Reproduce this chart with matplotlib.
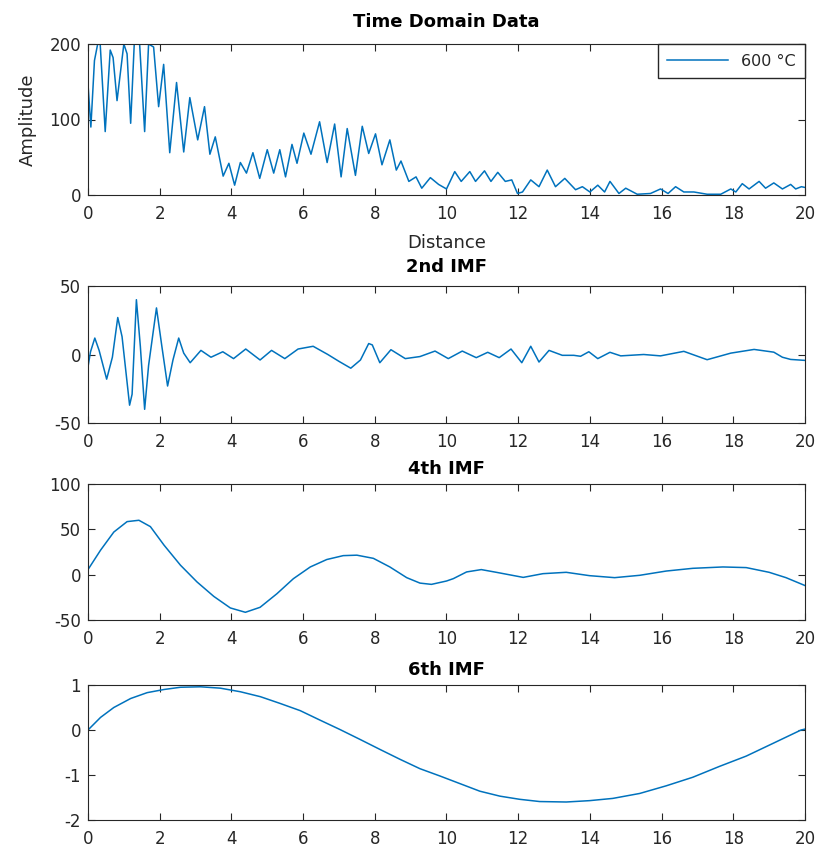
import matplotlib
matplotlib.use("Agg")
import matplotlib.pyplot as plt

plt.rcParams["font.family"] = ["DejaVu Sans"]
plt.rcParams["axes.unicode_minus"] = False

# Time domain amplitude
td_x = [0, 0.08, 0.18, 0.27, 0.34, 0.48, 0.62, 0.70, 0.81, 1.0, 1.09, 1.19, 1.29, 1.44,
        1.58, 1.69, 1.83, 1.97, 2.11, 2.28, 2.47, 2.67, 2.84, 3.06, 3.25, 3.4, 3.55,
        3.77, 3.93, 4.09, 4.25, 4.42, 4.6, 4.79, 5.0, 5.18, 5.35, 5.51, 5.69, 5.83,
        6.02, 6.22, 6.46, 6.67, 6.88, 7.06, 7.23, 7.46, 7.65, 7.83, 8.02, 8.2, 8.42,
        8.6, 8.73, 8.95, 9.15, 9.31, 9.55, 9.78, 10.0, 10.23, 10.41, 10.65, 10.81,
        11.06, 11.24, 11.43, 11.64, 11.82, 11.98, 12.12, 12.35, 12.58, 12.81, 13.04,
        13.3, 13.6, 13.79, 14.0, 14.22, 14.41, 14.56, 14.81, 15.0, 15.32, 15.69,
        15.97, 16.18, 16.39, 16.62, 16.9, 17.27, 17.65, 17.93, 18.07, 18.25, 18.44,
        18.72, 18.9, 19.13, 19.37, 19.6, 19.74, 19.9, 20.0]
td_y = [147, 90, 178, 200, 200, 84, 192, 182, 125, 200, 187, 95, 200, 200,
        84, 200, 196, 117, 173, 56, 149, 57, 129, 73, 117, 54, 77,
        25, 42, 13, 43, 29, 56, 22, 60, 29, 60, 24, 67, 42,
        82, 54, 97, 43, 94, 24, 88, 26, 91, 55, 81, 40, 73,
        33, 45, 18, 24, 9, 23, 14, 8, 31, 18, 31, 18,
        32, 18, 30, 18, 20, 2, 4, 20, 11, 33, 11,
        22, 7, 11, 4, 13, 4, 18, 2, 9, 1, 2,
        8, 2, 11, 4, 4, 1, 1, 8, 4, 15, 8,
        18, 9, 16, 8, 14, 8, 11, 10]

# 2nd IMF
imf2_x = [0, 0.07, 0.19, 0.31, 0.52, 0.68, 0.83, 0.95, 1.16, 1.23, 1.35, 1.46, 1.58,
          1.69, 1.91, 2.06, 2.22, 2.37, 2.53, 2.67, 2.85, 3.15, 3.43, 3.76, 4.06,
          4.4, 4.8, 5.12, 5.49, 5.86, 6.28, 6.69, 7.0, 7.33, 7.6, 7.83, 7.93, 8.14,
          8.45, 8.85, 9.26, 9.68, 10.05, 10.44, 10.83, 11.15, 11.47, 11.8, 12.1,
          12.35, 12.58, 12.86, 13.23, 13.55, 13.74, 13.97, 14.22, 14.56, 14.86,
          15.5, 15.97, 16.62, 17.27, 17.93, 18.58, 19.13, 19.37, 19.6, 20.0]
imf2_y = [-9, 2, 12, 3, -18, -2, 27, 13, -37, -29, 40, 6, -40,
          -8, 34, 6, -23, -4, 12, 1, -6, 3, -2, 2, -3,
          4, -4, 3, -3, 4, 6, 0, -5, -10, -4, 8, 7, -6,
          3.5, -3, -1.5, 2.5, -3, 2.5, -2.3, 1.6, -2.3, 4, -6,
          6, -5.5, 3, -0.6, -0.6, -1.3, 2, -3, 1.6, -1,
          0, -1, 2.3, -3.8, 1, 3.7, 1.7, -2, -3.6, -4.3]

# 4th IMF
imf4_x = [0, 0.35, 0.72, 1.09, 1.42, 1.74, 2.12, 2.58, 3.04, 3.51, 3.97, 4.39, 4.8,
          5.27, 5.73, 6.2, 6.66, 7.12, 7.5, 7.96, 8.42, 8.89, 9.26, 9.58, 10.0,
          10.19, 10.56, 10.97, 11.39, 12.14, 12.69, 13.34, 13.99, 14.69, 15.39,
          16.13, 16.87, 17.71, 18.36, 19.0, 19.47, 20.0]
imf4_y = [5.6, 27, 47, 58.5, 60, 53, 32.6, 10.4, -8, -24, -36.7, -41.5, -36,
          -21, -4.4, 8.5, 16.7, 21, 21.5, 18, 8.5, -3.3, -9.3, -10.7, -7,
          -4.4, 3, 5.6, 2.6, -3, 1.1, 2.6, -1.1, -3.3, -0.7,
          4, 7, 8.5, 7.8, 2.6, -3.3, -12]

# 6th IMF
imf6_x = [0, 0.35, 0.72, 1.19, 1.65, 2.12, 2.58, 3.14, 3.69, 4.25, 4.81, 5.36, 5.92,
          6.47, 7.03, 7.59, 8.14, 8.7, 9.26, 9.81, 10.37, 10.93, 11.49, 12.04, 12.6,
          13.34, 13.99, 14.64, 15.39, 16.13, 16.87, 17.61, 18.36, 19.1, 19.89, 20.0]
imf6_y = [0, 0.28, 0.5, 0.7, 0.83, 0.9, 0.95, 0.96, 0.93, 0.85, 0.74, 0.59, 0.43,
          0.22, 0.01, -0.21, -0.43, -0.65, -0.86, -1.02, -1.19, -1.36, -1.47, -1.54, -1.59,
          -1.6, -1.57, -1.52, -1.41, -1.24, -1.05, -0.81, -0.58, -0.3, 0.0, 0.02]

x_ticks = list(range(0, 21, 2))
line_color = "#0072BD"
ax_color = "#262626"

fig = plt.figure(figsize=(8.2, 8.52), dpi=100)
W, H = 820, 852


def make_axes(left, top, right, bottom):
    return fig.add_axes([left / W, 1 - bottom / H, (right - left) / W, (bottom - top) / H])


def style(ax, yticks, ylim):
    ax.set_xlim(0, 20)
    ax.set_ylim(*ylim)
    ax.set_xticks(x_ticks)
    ax.set_yticks(yticks)
    ax.tick_params(direction="in", top=True, right=True, length=5, width=0.8,
                   colors=ax_color, labelcolor=ax_color, labelsize=12)
    ax.tick_params(axis="x", pad=7)
    ax.tick_params(axis="y", pad=5)
    for sp in ax.spines.values():
        sp.set_color(ax_color)
        sp.set_linewidth(0.8)


ax1 = make_axes(88, 44, 805, 195)
ax1.plot(td_x, td_y, color=line_color, lw=1.1, label="600 °C")
style(ax1, [0, 100, 200], (0, 200))
ax1.set_title("Time Domain Data", fontweight="bold", fontsize=13, pad=12, color="black")
ax1.set_xlabel("Distance", fontsize=13, color=ax_color, labelpad=8)
ax1.set_ylabel("Amplitude", fontsize=13, color=ax_color, labelpad=9)
leg = ax1.legend(loc="upper right", bbox_to_anchor=(1, 1), borderaxespad=0,
                 fancybox=False, framealpha=1, edgecolor=ax_color, fontsize=11.5,
                 handlelength=3.8, borderpad=0.6)
for t in leg.get_texts():
    t.set_color(ax_color)

ax2 = make_axes(88, 286, 805, 423)
ax2.plot(imf2_x, imf2_y, color=line_color, lw=1.1)
style(ax2, [-50, 0, 50], (-50, 50))
ax2.set_title("2nd IMF", fontweight="bold", fontsize=13, pad=10, color="black")

ax3 = make_axes(88, 484, 805, 620)
ax3.plot(imf4_x, imf4_y, color=line_color, lw=1.1)
style(ax3, [-50, 0, 50, 100], (-50, 100))
ax3.set_title("4th IMF", fontweight="bold", fontsize=13, pad=7, color="black")

ax4 = make_axes(88, 685, 805, 820)
ax4.plot(imf6_x, imf6_y, color=line_color, lw=1.1)
style(ax4, [-2, -1, 0, 1], (-2, 1))
ax4.set_title("6th IMF", fontweight="bold", fontsize=13, pad=7, color="black")

fig.savefig("out.png", dpi=100)
